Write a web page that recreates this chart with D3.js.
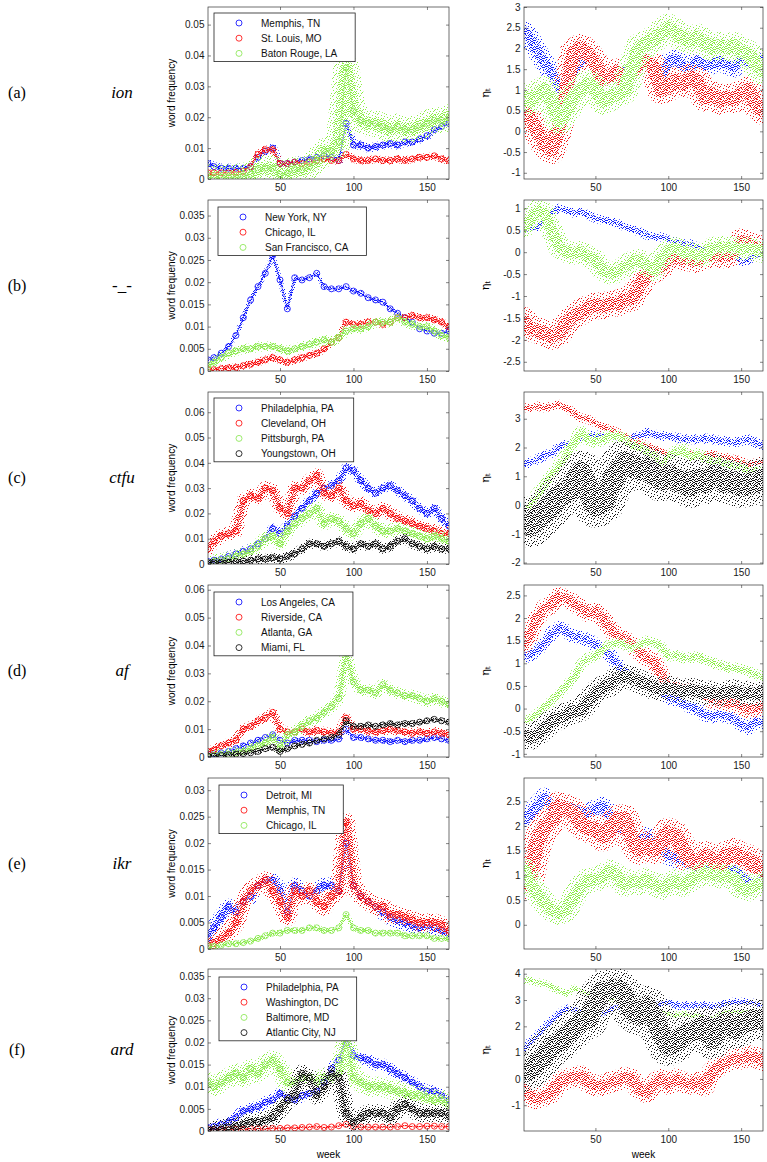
<!DOCTYPE html>
<html><head><meta charset="utf-8">
<script src="https://cdn.jsdelivr.net/npm/d3@7"></script>
<style>body{margin:0;background:#fff}svg{display:block}</style>
</head><body>
<svg id="c" width="767" height="1162"></svg>
<script>
// ---------------- DATA ----------------
const weeks = [1,5,10,15,20,25,30,35,40,45,50,55,60,65,70,75,80,85,90,95,100,105,110,115,120,125,130,135,140,145,150,155,160,165];
const xTicks = [50,100,150];
const rowLetters = ["(a)","(b)","(c)","(d)","(e)","(f)"];
const rowWords = ["ion","-_-","ctfu","af","ikr","ard"];

// (a) ion
const ionCities = ["Memphis, TN","St. Louis, MO","Baton Rouge, LA"];
const ionFreqMemphis = [0.005,0.004,0.0035,0.0035,0.0035,0.0035,0.004,0.007,0.009,0.010,0.005,0.005,0.0055,0.006,0.0065,0.007,0.0075,0.007,0.006,0.018,0.011,0.011,0.010,0.0105,0.011,0.0115,0.011,0.012,0.012,0.013,0.014,0.016,0.017,0.018];
const ionFreqStLouis = [0.002,0.002,0.002,0.002,0.0022,0.0025,0.004,0.008,0.0095,0.0095,0.005,0.005,0.0055,0.005,0.0055,0.006,0.0065,0.006,0.006,0.008,0.0065,0.006,0.006,0.0065,0.006,0.006,0.0065,0.006,0.0065,0.007,0.007,0.0075,0.0065,0.006];
const ionFreqBatonRouge = [0.0005,0.0005,0.0005,0.0005,0.0005,0.001,0.0015,0.003,0.0035,0.0035,0.0015,0.002,0.003,0.003,0.004,0.006,0.009,0.009,0.012,0.036,0.022,0.019,0.018,0.018,0.017,0.016,0.017,0.016,0.016,0.017,0.018,0.019,0.019,0.02];
const ionEtaMemphis = [2.42,2.26,1.94,1.66,1.42,1.05,1.1,1.46,1.7,1.78,1.54,1.38,1.3,1.38,1.42,1.54,1.58,1.66,1.5,1.26,1.66,1.74,1.58,1.54,1.7,1.58,1.62,1.7,1.62,1.54,1.74,1.66,1.58,1.78];
const ionEtaStLouis = [0.5,0.34,0.02,-0.3,-0.45,0.1,1.0,1.9,2.02,1.86,1.62,1.26,1.34,1.42,1.18,1.42,1.66,1.7,1.54,1.0,1.06,1.22,1.14,1.3,1.22,0.82,0.9,0.74,0.82,0.78,0.9,1.0,0.66,0.5];
const ionEtaBatonRouge = [0.82,0.74,0.9,1.0,0.74,0.26,0.5,0.82,1.0,1.14,1.0,0.74,0.82,0.9,1.0,1.54,2.02,2.1,2.22,2.38,2.5,2.38,2.26,2.18,2.26,2.14,2.02,2.06,2.02,2.06,1.94,1.86,1.62,1.46];
const ionFreqTicks = [0,0.01,0.02,0.03,0.04,0.05];
const ionEtaTicks = [-1,-0.5,0,0.5,1,1.5,2,2.5,3];

// (b) -_-
const faceCities = ["New York, NY","Chicago, IL","San Francisco, CA"];
const faceFreqNewYork = [0.0025,0.003,0.004,0.0055,0.008,0.012,0.016,0.019,0.022,0.026,0.0205,0.014,0.021,0.0205,0.021,0.022,0.019,0.0185,0.0185,0.019,0.018,0.0175,0.0165,0.016,0.0155,0.014,0.013,0.012,0.011,0.0095,0.009,0.0085,0.0085,0.009];
const faceFreqChicago = [0.0003,0.0003,0.0005,0.0007,0.0008,0.0012,0.0015,0.002,0.0025,0.003,0.0025,0.002,0.0025,0.003,0.0035,0.004,0.005,0.0065,0.0075,0.011,0.0105,0.0105,0.011,0.011,0.0105,0.011,0.012,0.012,0.0125,0.012,0.012,0.0115,0.011,0.01];
const faceFreqSanFrancisco = [0.001,0.002,0.003,0.004,0.0045,0.005,0.005,0.0055,0.0055,0.0055,0.005,0.0045,0.005,0.0055,0.006,0.0065,0.007,0.0065,0.0075,0.009,0.0095,0.0095,0.01,0.011,0.011,0.011,0.012,0.011,0.0105,0.01,0.01,0.009,0.008,0.0075];
const faceEtaNewYork = [0.5,0.54,0.58,0.73,0.89,1.0,0.96,0.89,0.92,0.85,0.77,0.73,0.7,0.66,0.58,0.52,0.47,0.39,0.35,0.35,0.28,0.24,0.2,0.19,0.12,0.05,0.01,0.01,-0.03,-0.03,-0.22,-0.18,-0.07,-0.07];
const faceEtaChicago = [-1.55,-1.74,-1.78,-1.85,-1.93,-1.85,-1.63,-1.47,-1.36,-1.28,-1.21,-1.25,-1.17,-1.17,-1.09,-1.05,-0.79,-0.45,-0.41,-0.33,-0.14,-0.1,-0.14,-0.14,-0.18,-0.1,-0.03,-0.07,-0.07,0.01,0.24,0.2,0.09,0.09];
const faceEtaSanFrancisco = [0.58,0.73,0.95,0.89,0.5,0.12,0.01,-0.03,0.01,-0.1,-0.18,-0.41,-0.48,-0.45,-0.33,-0.22,-0.18,-0.29,-0.41,-0.14,0.05,0.09,0.01,-0.03,-0.07,-0.07,0.09,0.12,0.12,0.12,0.05,0.09,0.05,0.01];
const faceFreqTicks = [0,0.005,0.01,0.015,0.02,0.025,0.03,0.035];
const faceEtaTicks = [-2.5,-2,-1.5,-1,-0.5,0,0.5,1];

// (c) ctfu
const ctfuCities = ["Philadelphia, PA","Cleveland, OH","Pittsburgh, PA","Youngstown, OH"];
const ctfuFreqPhiladelphia = [0.001,0.0015,0.002,0.003,0.004,0.005,0.006,0.008,0.01,0.014,0.012,0.015,0.019,0.022,0.025,0.028,0.03,0.031,0.033,0.038,0.037,0.033,0.03,0.028,0.03,0.031,0.029,0.027,0.025,0.022,0.02,0.022,0.018,0.015];
const ctfuFreqCleveland = [0.006,0.009,0.011,0.012,0.013,0.025,0.027,0.026,0.03,0.029,0.022,0.02,0.03,0.03,0.033,0.035,0.028,0.027,0.03,0.025,0.023,0.024,0.021,0.02,0.022,0.02,0.018,0.017,0.016,0.015,0.014,0.013,0.012,0.012];
const ctfuFreqPittsburgh = [0.0005,0.001,0.0015,0.002,0.003,0.004,0.005,0.007,0.01,0.011,0.008,0.013,0.016,0.018,0.02,0.022,0.016,0.018,0.017,0.014,0.012,0.016,0.018,0.015,0.013,0.013,0.014,0.013,0.012,0.011,0.01,0.011,0.01,0.009];
const ctfuFreqYoungstown = [0.0005,0.0005,0.0005,0.0007,0.001,0.0012,0.0015,0.002,0.002,0.0025,0.002,0.003,0.004,0.006,0.008,0.008,0.007,0.008,0.009,0.007,0.006,0.008,0.007,0.008,0.006,0.007,0.009,0.01,0.008,0.007,0.006,0.007,0.006,0.006];
const ctfuEtaPhiladelphia = [1.42,1.48,1.59,1.71,1.82,2.0,2.11,2.17,2.29,2.4,2.42,2.4,2.4,2.34,2.29,2.34,2.4,2.52,2.46,2.4,2.4,2.34,2.29,2.29,2.29,2.31,2.29,2.23,2.23,2.17,2.23,2.29,2.17,2.06];
const ctfuEtaCleveland = [3.38,3.38,3.44,3.38,3.44,3.5,3.38,3.21,3.03,2.98,2.86,2.69,2.63,2.52,2.4,2.23,2.17,2.06,1.94,1.88,1.71,1.82,1.88,1.82,1.77,1.71,1.77,1.65,1.65,1.59,1.54,1.36,1.48,1.54];
const ctfuEtaPittsburgh = [-0.25,-0.02,0.33,0.67,1.02,1.36,1.71,2.17,2.52,2.29,2.23,2.29,2.4,2.4,2.23,2.06,2.0,1.88,1.77,1.36,1.65,1.82,1.94,1.65,1.77,1.59,1.54,1.54,1.42,1.36,1.31,1.19,1.19,1.25];
const ctfuEtaYoungstown = [-0.48,-0.71,-0.48,-0.25,-0.02,0.33,0.44,0.67,1.13,0.56,-0.02,0.1,0.67,1.13,1.48,1.36,1.25,1.31,1.08,0.9,1.02,0.9,0.79,0.67,0.9,0.79,1.02,0.96,0.79,0.79,0.67,0.73,0.79,0.9];
const ctfuFreqTicks = [0,0.01,0.02,0.03,0.04,0.05,0.06];
const ctfuEtaTicks = [-2,-1,0,1,2,3];

// (d) af
const afCities = ["Los Angeles, CA","Riverside, CA","Atlanta, GA","Miami, FL"];
const afFreqLosAngeles = [0.001,0.0012,0.0015,0.002,0.003,0.004,0.005,0.006,0.007,0.008,0.006,0.005,0.006,0.006,0.006,0.0055,0.006,0.006,0.0065,0.01,0.007,0.007,0.0065,0.006,0.006,0.0055,0.006,0.0055,0.006,0.006,0.0065,0.007,0.0065,0.006];
const afFreqRiverside = [0.002,0.0025,0.004,0.005,0.006,0.01,0.011,0.013,0.014,0.016,0.01,0.009,0.009,0.01,0.009,0.0095,0.009,0.0085,0.009,0.014,0.01,0.01,0.0095,0.009,0.0095,0.01,0.0095,0.009,0.0085,0.009,0.0085,0.009,0.0085,0.008];
const afFreqAtlanta = [0.0003,0.0005,0.0008,0.001,0.0015,0.002,0.003,0.004,0.005,0.007,0.003,0.008,0.009,0.011,0.013,0.014,0.016,0.018,0.021,0.037,0.027,0.024,0.024,0.023,0.026,0.024,0.023,0.022,0.022,0.021,0.02,0.021,0.02,0.019];
const afFreqMiami = [0.0003,0.0003,0.0005,0.0007,0.001,0.0012,0.0015,0.002,0.003,0.0035,0.002,0.003,0.004,0.0045,0.005,0.006,0.0065,0.007,0.008,0.013,0.011,0.011,0.0115,0.011,0.0115,0.012,0.0115,0.012,0.012,0.0125,0.013,0.0135,0.013,0.0125];
const afEtaLosAngeles = [1.15,1.19,1.3,1.45,1.67,1.78,1.71,1.6,1.56,1.52,1.41,1.34,1.19,0.97,0.82,0.71,0.6,0.53,0.46,0.38,0.24,0.2,0.13,0.05,-0.02,-0.13,-0.17,-0.13,-0.17,-0.21,-0.35,-0.43,-0.28,-0.32];
const afEtaRiverside = [1.41,1.63,2.0,2.22,2.29,2.48,2.44,2.33,2.22,2.11,2.15,2.0,1.78,1.6,1.52,1.41,1.26,1.12,1.04,0.75,0.46,0.49,0.42,0.46,0.35,0.31,0.2,0.16,0.13,0.13,0.05,-0.02,0.01,0.09];
const afEtaAtlanta = [-0.28,-0.24,-0.13,0.01,0.16,0.31,0.49,0.68,0.97,1.12,1.15,1.3,1.41,1.45,1.41,1.34,1.41,1.49,1.45,1.37,1.15,1.19,1.12,1.12,1.15,1.08,1.01,0.97,0.9,0.9,0.86,0.82,0.75,0.71];
const afEtaMiami = [-0.57,-0.65,-0.57,-0.43,-0.28,-0.21,-0.13,-0.06,-0.02,0.16,0.35,0.46,0.53,0.68,0.71,0.68,0.6,0.53,0.46,0.42,0.46,0.42,0.38,0.42,0.38,0.35,0.35,0.31,0.35,0.38,0.31,0.35,0.31,0.35];
const afFreqTicks = [0,0.01,0.02,0.03,0.04,0.05,0.06];
const afEtaTicks = [-1,-0.5,0,0.5,1,1.5,2,2.5];

// (e) ikr
const ikrCities = ["Detroit, MI","Memphis, TN","Chicago, IL"];
const ikrFreqDetroit = [0.002,0.004,0.006,0.008,0.007,0.009,0.01,0.012,0.013,0.013,0.011,0.007,0.012,0.011,0.01,0.011,0.012,0.012,0.011,0.02,0.012,0.01,0.009,0.008,0.007,0.006,0.0055,0.005,0.0045,0.004,0.0045,0.004,0.0035,0.003];
const ikrFreqMemphis = [0.0005,0.001,0.002,0.003,0.005,0.009,0.011,0.012,0.013,0.011,0.009,0.006,0.011,0.01,0.011,0.009,0.008,0.01,0.011,0.024,0.012,0.01,0.009,0.008,0.008,0.0065,0.0065,0.006,0.0055,0.005,0.005,0.005,0.0045,0.0035];
const ikrFreqChicago = [0.0005,0.0005,0.0007,0.001,0.001,0.0012,0.0015,0.002,0.0025,0.003,0.003,0.0035,0.0035,0.0035,0.004,0.004,0.0035,0.0035,0.004,0.0065,0.004,0.0035,0.0035,0.003,0.003,0.003,0.003,0.0025,0.0025,0.0025,0.0025,0.002,0.002,0.002];
const ikrEtaDetroit = [2.13,2.2,2.4,2.57,2.4,2.33,2.4,2.33,2.3,2.26,2.33,2.4,2.2,1.99,1.93,1.79,1.69,1.79,1.66,1.52,1.42,1.35,1.32,1.22,1.18,1.11,1.08,0.98,1.11,1.11,0.98,0.84,0.81,0.88];
const ikrEtaMemphis = [0.78,0.98,1.66,1.99,2.13,2.4,2.33,2.26,2.06,1.96,1.93,1.79,1.93,2.13,2.13,1.72,1.52,1.59,1.52,1.66,1.86,1.79,1.52,1.32,1.25,1.39,1.32,1.18,1.39,1.45,1.35,1.32,1.18,1.11];
const ikrEtaChicago = [1.11,0.84,0.64,0.44,0.3,0.24,0.3,0.57,0.78,0.91,0.91,0.98,1.08,0.98,0.81,0.88,0.84,0.91,0.84,0.74,0.81,0.88,0.81,0.91,0.98,1.05,1.01,0.98,0.98,0.95,0.74,0.71,0.81,0.84];
const ikrFreqTicks = [0,0.005,0.01,0.015,0.02,0.025,0.03];
const ikrEtaTicks = [0,0.5,1,1.5,2,2.5];

// (f) ard
const ardCities = ["Philadelphia, PA","Washington, DC","Baltimore, MD","Atlantic City, NJ"];
const ardFreqPhiladelphia = [0.0008,0.001,0.0015,0.002,0.003,0.0045,0.005,0.0055,0.0065,0.007,0.0085,0.0075,0.007,0.008,0.0085,0.009,0.011,0.014,0.016,0.021,0.017,0.0165,0.016,0.015,0.015,0.014,0.013,0.012,0.011,0.01,0.009,0.009,0.008,0.007];
const ardFreqWashington = [0.0003,0.0003,0.0003,0.0003,0.0004,0.0004,0.0005,0.0005,0.0005,0.0006,0.0006,0.0007,0.0007,0.0008,0.0009,0.001,0.0008,0.0009,0.0012,0.0015,0.001,0.0009,0.0009,0.0009,0.0009,0.0009,0.001,0.0012,0.001,0.001,0.0011,0.0011,0.001,0.001];
const ardFreqBaltimore = [0.011,0.01,0.011,0.012,0.013,0.012,0.014,0.013,0.015,0.016,0.014,0.011,0.011,0.012,0.012,0.011,0.012,0.012,0.013,0.02,0.012,0.011,0.01,0.01,0.01,0.0095,0.009,0.0085,0.008,0.008,0.0075,0.007,0.007,0.006];
const ardFreqAtlanticCity = [0.0002,0.0003,0.0005,0.0008,0.001,0.0015,0.002,0.002,0.0025,0.003,0.005,0.007,0.008,0.013,0.012,0.008,0.01,0.013,0.012,0.004,0.002,0.003,0.004,0.004,0.004,0.003,0.005,0.006,0.005,0.004,0.004,0.004,0.004,0.0035];
const ardEtaPhiladelphia = [1.14,1.39,1.65,1.96,2.22,2.47,2.66,2.66,2.54,2.54,2.54,2.47,2.66,2.73,2.73,2.6,2.85,2.92,2.85,2.85,2.92,2.79,2.79,2.79,2.79,2.79,2.73,2.79,2.85,2.92,2.92,2.92,2.85,2.79];
const ardEtaWashington = [-0.39,-0.64,-0.77,-0.64,-0.52,-0.13,-0.01,0.06,0.12,-0.13,-0.26,-0.26,-0.13,-0.07,0.06,-0.01,-0.39,-0.52,-0.2,-0.01,-0.2,-0.01,-0.13,-0.2,-0.13,-0.26,0.25,0.5,0.63,0.76,0.76,0.88,0.82,0.69];
const ardEtaBaltimore = [3.75,3.75,3.68,3.62,3.49,3.36,3.24,3.43,3.36,3.24,3.17,3.24,3.05,2.98,2.85,2.79,2.66,2.6,2.6,2.54,2.47,2.41,2.47,2.41,2.41,2.35,2.28,2.47,2.54,2.54,2.54,2.54,2.6,2.47];
const ardEtaAtlanticCity = [0.25,0.37,0.63,0.88,1.26,1.39,1.65,1.9,2.16,2.28,2.92,3.3,3.43,3.43,3.17,2.6,2.41,2.79,2.41,1.77,1.26,1.39,1.65,1.77,1.9,2.03,1.52,1.9,2.16,1.9,2.03,2.22,2.28,2.22];
const ardFreqTicks = [0,0.005,0.01,0.015,0.02,0.025,0.03,0.035];
const ardEtaTicks = [-1,0,1,2,3,4];

// ---------------- LAYOUT / STYLE ----------------
const W = 767, H = 1162;
const leftRange = [208, 449], rightRange = [524, 763];
const rowTop = [7, 200, 392, 585, 778, 969];
const rowBottom = [179, 371, 564, 757, 949, 1131];
const freqMax = [0.0557, 0.0385, 0.068, 0.0617, 0.0323, 0.0366];
const etaDomain = [[-1.15,3],[-2.71,1.19],[-2.05,3.93],[-1.07,2.73],[-0.49,2.97],[-1.98,4.18]];
const legendOffset = [[6,6],[10,7],[6,6],[6,7],[11,7],[11,8]];
const colorKeys = ["blue","red","green","black"];
const circleColor = {blue:"#0000ff", red:"#ff0000", green:"#84e64a", black:"#000000"};
const cloudColor = {blue:"#1020ff", red:"#f01414", green:"#8cee46", black:"#161616"};
// band widths (px) per series: left (frequency) and right (eta)
const leftSpread = [[9,8,26],[5,8,10],[10,14,14,10],[6,10,12,6],[16,18,6],[12,3,20,18]];
const rightSpread = [[20,28,28],[9,26,22],[10,9,14,44],[14,18,11,24],[20,30,24],[9,21,8,40]];
// stipple tiles (9x9 px) for the dotted clouds
const sparseDots = [[0,0],[5,1],[2,2],[7,3],[4,4],[0,5],[8,6],[3,7],[6,8],[1,3],[6,5],[3,1]];
const denseDots = sparseDots.concat([[1,0],[7,0],[4,2],[8,2],[0,2],[3,4],[6,3],[1,5],[5,6],[2,6],[7,7],[0,8],[4,8],[8,8],[2,4],[5,3],[6,1],[3,6],[1,7],[8,4]]);

const rows = [
  {cities: ionCities, freq:[ionFreqMemphis,ionFreqStLouis,ionFreqBatonRouge], eta:[ionEtaMemphis,ionEtaStLouis,ionEtaBatonRouge], fT: ionFreqTicks, eT: ionEtaTicks},
  {cities: faceCities, freq:[faceFreqNewYork,faceFreqChicago,faceFreqSanFrancisco], eta:[faceEtaNewYork,faceEtaChicago,faceEtaSanFrancisco], fT: faceFreqTicks, eT: faceEtaTicks},
  {cities: ctfuCities, freq:[ctfuFreqPhiladelphia,ctfuFreqCleveland,ctfuFreqPittsburgh,ctfuFreqYoungstown], eta:[ctfuEtaPhiladelphia,ctfuEtaCleveland,ctfuEtaPittsburgh,ctfuEtaYoungstown], fT: ctfuFreqTicks, eT: ctfuEtaTicks},
  {cities: afCities, freq:[afFreqLosAngeles,afFreqRiverside,afFreqAtlanta,afFreqMiami], eta:[afEtaLosAngeles,afEtaRiverside,afEtaAtlanta,afEtaMiami], fT: afFreqTicks, eT: afEtaTicks},
  {cities: ikrCities, freq:[ikrFreqDetroit,ikrFreqMemphis,ikrFreqChicago], eta:[ikrEtaDetroit,ikrEtaMemphis,ikrEtaChicago], fT: ikrFreqTicks, eT: ikrEtaTicks},
  {cities: ardCities, freq:[ardFreqPhiladelphia,ardFreqWashington,ardFreqBaltimore,ardFreqAtlanticCity], eta:[ardEtaPhiladelphia,ardEtaWashington,ardEtaBaltimore,ardEtaAtlanticCity], fT: ardFreqTicks, eT: ardEtaTicks}
];

// ---------------- DRAW ----------------
const svg = d3.select("#c");
svg.append("rect").attr("width", W).attr("height", H).attr("fill", "#fff");
const defs = svg.append("defs");
colorKeys.forEach(k => {
  [["sp", sparseDots], ["dn", denseDots]].forEach(([n, dots]) => {
    const p = defs.append("pattern").attr("id", `${n}-${k}`).attr("patternUnits", "userSpaceOnUse")
      .attr("width", 9).attr("height", 9);
    p.selectAll("rect").data(dots).join("rect")
      .attr("x", d => d[0]).attr("y", d => d[1]).attr("width", 1).attr("height", 1)
      .attr("fill", cloudColor[k]);
  });
});

const FONT = "'Liberation Sans', Arial, Helvetica, sans-serif";
const fmt = d => String(d);

function frame(g, x, y, yTicks) {
  const [x0, x1] = x.range(); const [y1, y0] = y.range();
  const ax = (sel) => { sel.select(".domain").remove(); sel.selectAll("line").attr("stroke", "#333").attr("stroke-width", 0.6);
    sel.selectAll("text").attr("font-family", FONT).attr("font-size", 10).attr("fill", "#1a1a1a"); };
  g.append("g").attr("transform", `translate(0,${y1})`)
    .call(d3.axisBottom(x).tickValues(xTicks).tickSizeInner(-3).tickSizeOuter(0).tickPadding(5).tickFormat(fmt)).call(ax);
  g.append("g").attr("transform", `translate(0,${y0})`)
    .call(d3.axisTop(x).tickValues(xTicks).tickSizeInner(-3).tickSizeOuter(0).tickFormat("")).call(ax);
  g.append("g").attr("transform", `translate(${x0},0)`)
    .call(d3.axisLeft(y).tickValues(yTicks).tickSizeInner(-3).tickSizeOuter(0).tickPadding(3.5).tickFormat(fmt)).call(ax);
  g.append("g").attr("transform", `translate(${x1},0)`)
    .call(d3.axisRight(y).tickValues(yTicks).tickSizeInner(-3).tickSizeOuter(0).tickFormat("")).call(ax);
  g.append("rect").attr("x", x0).attr("y", y0).attr("width", x1 - x0).attr("height", y1 - y0)
    .attr("fill", "none").attr("stroke", "#333").attr("stroke-width", 0.7);
}

function band(g, x, y, vals, k, width) {
  const line = d3.line().x((d, i) => x(weeks[i])).y(d => y(d));
  g.append("path").attr("d", line(vals)).attr("fill", "none").attr("stroke", `url(#sp-${k})`)
    .attr("stroke-width", width).attr("stroke-linejoin", "round").attr("stroke-linecap", "round");
  g.append("path").attr("d", line(vals)).attr("fill", "none").attr("stroke", `url(#dn-${k})`)
    .attr("stroke-width", Math.max(1.5, width * 0.5)).attr("stroke-linejoin", "round").attr("stroke-linecap", "round");
  return line;
}

rows.forEach((r, ri) => {
  const top = rowTop[ri], bot = rowBottom[ri], mid = (top + bot) / 2;
  svg.append("text").attr("x", 17).attr("y", mid + 5).attr("text-anchor", "middle")
    .attr("font-family", "'Liberation Serif', 'DejaVu Serif', serif").attr("font-size", 16).text(rowLetters[ri]);
  svg.append("text").attr("x", 122).attr("y", mid + 5).attr("text-anchor", "middle")
    .attr("font-family", "'Liberation Serif', 'DejaVu Serif', serif").attr("font-style", "italic").attr("font-size", 17).text(rowWords[ri]);

  // ---- left panel: word frequency
  const xl = d3.scaleLinear().domain([1, 165]).range(leftRange);
  const yl = d3.scaleLinear().domain([0, freqMax[ri]]).range([bot, top]);
  const clipL = `clipL${ri}`;
  defs.append("clipPath").attr("id", clipL).append("rect").attr("x", leftRange[0]).attr("y", top)
    .attr("width", leftRange[1] - leftRange[0]).attr("height", bot - top);
  const gl = svg.append("g");
  const dl = gl.append("g").attr("clip-path", `url(#${clipL})`);
  r.freq.forEach((vals, si) => {
    const k = colorKeys[si];
    const line = band(dl, xl, yl, vals, k, leftSpread[ri][si]);
    dl.append("path").attr("d", line(vals)).attr("fill", "none").attr("stroke", circleColor[k])
      .attr("stroke-width", 0.7).attr("stroke-opacity", 0.7);
    dl.append("g").selectAll("circle").data(vals).join("circle")
      .attr("cx", (d, i) => xl(weeks[i])).attr("cy", d => yl(d)).attr("r", 3)
      .attr("fill", "none").attr("stroke", circleColor[k]).attr("stroke-width", 0.8);
  });
  frame(gl, xl, yl, r.fT);
  gl.append("text").attr("transform", `translate(171,${mid}) rotate(-90)`).attr("text-anchor", "middle")
    .attr("dominant-baseline", "central").attr("font-family", FONT).attr("font-size", 10).text("word frequency");

  const [lox, loy] = legendOffset[ri];
  const lg = gl.append("g").attr("transform", `translate(${leftRange[0] + lox},${top + loy})`);
  const lrect = lg.append("rect").attr("fill", "#fff").attr("stroke", "#222").attr("stroke-width", 0.8);
  let maxW = 0;
  r.cities.forEach((c, ci) => {
    const k = colorKeys[ci];
    const cy = 10 + ci * 15.2;
    lg.append("circle").attr("cx", 25).attr("cy", cy).attr("r", 3).attr("fill", "none")
      .attr("stroke", circleColor[k]).attr("stroke-width", 0.8);
    const t = lg.append("text").attr("x", 47).attr("y", cy).attr("dominant-baseline", "central")
      .attr("font-family", FONT).attr("font-size", 10).attr("fill", "#111").text(c);
    maxW = Math.max(maxW, t.node().getComputedTextLength());
  });
  lrect.attr("width", 47 + maxW + 18).attr("height", r.cities.length * 15.2 + 3);

  // ---- right panel: eta
  const xr = d3.scaleLinear().domain([1, 165]).range(rightRange);
  const yr = d3.scaleLinear().domain(etaDomain[ri]).range([bot, top]);
  const clipR = `clipR${ri}`;
  defs.append("clipPath").attr("id", clipR).append("rect").attr("x", rightRange[0]).attr("y", top)
    .attr("width", rightRange[1] - rightRange[0]).attr("height", bot - top);
  const gr = svg.append("g");
  const dr = gr.append("g").attr("clip-path", `url(#${clipR})`);
  r.eta.forEach((vals, si) => band(dr, xr, yr, vals, colorKeys[si], rightSpread[ri][si]));
  frame(gr, xr, yr, r.eT);
  const et = gr.append("text").attr("transform", `translate(485,${mid}) rotate(-90)`).attr("text-anchor", "middle")
    .attr("dominant-baseline", "central").attr("font-family", "'DejaVu Serif', serif").attr("font-size", 11);
  et.append("tspan").text("η");
  et.append("tspan").attr("font-size", 7).attr("dy", 3).text("t");

  if (ri === rows.length - 1) {
    [leftRange, rightRange].forEach(rg => {
      svg.append("text").attr("x", (rg[0] + rg[1]) / 2).attr("y", 1158).attr("text-anchor", "middle")
        .attr("font-family", FONT).attr("font-size", 10).text("week");
    });
  }
});
</script>
</body></html>
